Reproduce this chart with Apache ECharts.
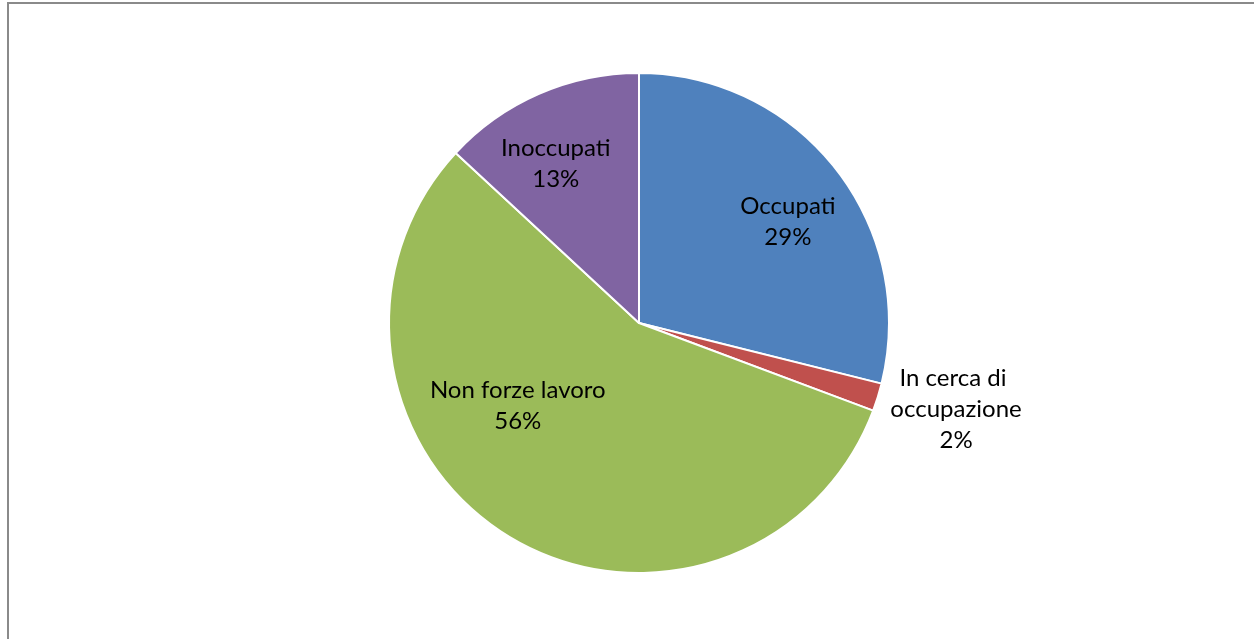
<!DOCTYPE html>
<html>
<head>
<meta charset="utf-8">
<script src="https://cdn.jsdelivr.net/npm/echarts@6/dist/echarts.min.js"></script>
<style>
html,body{margin:0;padding:0;background:#fff;}
#chart{width:1254px;height:639px;}
</style>
</head>
<body>
<div id="chart"></div>
<script>
var categories = ['Occupati', 'In cerca di occupazione', 'Non forze lavoro', 'Inoccupati'];
var values = [28.9, 1.8, 56.2, 13.1];
var colors = ['#4F81BD', '#C0504D', '#9BBB59', '#8064A2'];

var chart = echarts.init(document.getElementById('chart'));
var data = categories.map(function (c, i) {
  var item = { name: c, value: values[i], itemStyle: { color: colors[i] } };
  if (i === 1) {
    item.label = { position: 'outside', width: 150, overflow: 'break' };
    item.labelLine = { show: false };
  }
  return item;
});
var offsets = [[48, -22], [29, 8], [-54, -26], [-32, -42]];
chart.setOption({
  animation: false,
  graphic: [{
    type: 'rect', silent: true,
    shape: { x: 8, y: 3, width: 1400, height: 800 },
    style: { fill: 'none', stroke: '#8a8a8a', lineWidth: 2 }
  }],
  series: [{
    type: 'pie',
    center: [639, 323],
    radius: [0, 250],
    startAngle: 90,
    clockwise: true,
    percentPrecision: 0,
    data: data,
    itemStyle: { borderColor: '#fff', borderWidth: 2 },
    label: {
      show: true,
      position: 'inside',
      formatter: '{b}\n{d}%',
      fontFamily: 'Lato',
      fontSize: 24,
      lineHeight: 31,
      color: '#000',
      align: 'center'
    },
    labelLine: { show: false },
    labelLayout: function (p) {
      var o = offsets[p.dataIndex];
      var r = { dx: o[0], dy: o[1] };
      if (p.dataIndex === 1) { r.align = 'center'; }
      return r;
    }
  }]
});
</script>
</body>
</html>
